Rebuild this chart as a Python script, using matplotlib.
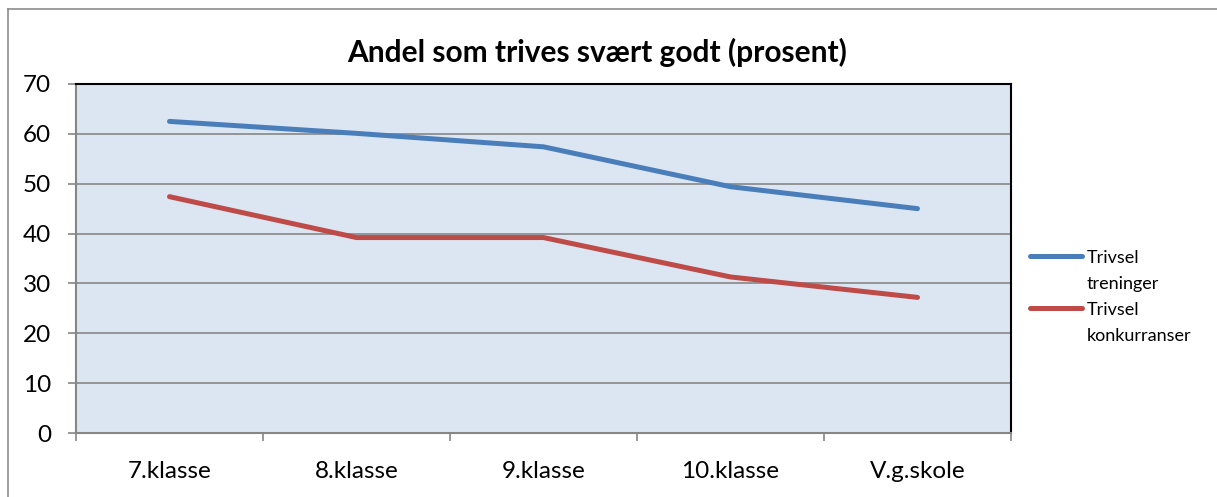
import numpy as np
import matplotlib.pyplot as plt
from matplotlib.lines import Line2D

# data
klasser = ['7.klasse', '8.klasse', '9.klasse', '10.klasse', 'V.g.skole']
treninger = [62.5, 60.1, 57.4, 49.4, 45.0]
konkurranser = [47.4, 39.2, 39.2, 31.3, 27.2]
yticks = [0, 10, 20, 30, 40, 50, 60, 70]
serier = [('Trivsel\ntreninger', treninger, '#4A7EBB'),
          ('Trivsel\nkonkurranser', konkurranser, '#BE4B48')]

plt.rcParams['font.family'] = ['Lato', 'DejaVu Sans']

fig = plt.figure(figsize=(12.17, 4.97), dpi=100)
ax = fig.add_axes([76/1217, 1-433/497, (1011-76)/1217, (433-84)/497])
ax.set_facecolor('#DCE6F2')

x = np.arange(len(klasser))
for navn, verdier, farge in serier:
    ax.plot(x, verdier, color=farge, lw=3.6, solid_capstyle='round', zorder=3)

ax.set_xlim(-0.5, len(klasser)-0.5)
ax.set_ylim(0, 70)
ax.set_yticks(yticks)
ax.set_yticklabels([str(v) for v in yticks], fontsize=17.5)
ax.yaxis.grid(True, color='#868686', lw=1.2)
ax.set_axisbelow(True)

# category boundaries as major ticks, labels on minor
ax.set_xticks(np.arange(-0.5, len(klasser)))
ax.set_xticklabels([])
ax.set_xticks(x, minor=True)
ax.set_xticklabels(klasser, minor=True, fontsize=17.5)
ax.tick_params(axis='x', which='major', length=6, color='#868686', width=1.2)
ax.tick_params(axis='x', which='minor', length=0, pad=20)
ax.tick_params(axis='y', length=6, color='#868686', width=1.2, pad=12)

for s in ['top', 'right']:
    ax.spines[s].set_color('black')
    ax.spines[s].set_linewidth(1.5)
for s in ['left', 'bottom']:
    ax.spines[s].set_color('#868686')
    ax.spines[s].set_linewidth(1.5)

fig.text(597/1217, 1-52/497, 'Andel som trives svært godt (prosent)', ha='center', va='center',
         fontsize=21.5, fontweight='bold')

# legend: handle at the first text line of each entry
for i, (navn, verdier, farge) in enumerate(serier):
    yy = 1 - (256 + i*52)/497
    fig.add_artist(Line2D([1030/1217, 1082/1217], [yy, yy], transform=fig.transFigure,
                          color=farge, lw=3.6, solid_capstyle='round'))
    fig.text(1087/1217, yy + 6/497, navn, ha='left', va='top', fontsize=13, linespacing=1.75)

# outer chart frame (top and left edges visible)
fig.add_artist(Line2D([8/1217, 8/1217], [0, 1-9/497], transform=fig.transFigure, color='#8C8C8C', lw=1.2))
fig.add_artist(Line2D([8/1217, 1], [1-9/497, 1-9/497], transform=fig.transFigure, color='#8C8C8C', lw=1.2))

fig.savefig('out.png', dpi=100)
